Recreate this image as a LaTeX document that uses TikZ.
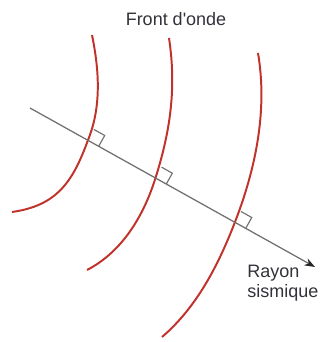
\documentclass[tikz,border=0pt]{standalone}
\usepackage{fontspec}
\setmainfont{Liberation Sans}
\usetikzlibrary{arrows.meta,calc,intersections}
\definecolor{rougeonde}{RGB}{192,50,42}
\definecolor{grisrayon}{RGB}{112,112,112}
\definecolor{texte}{RGB}{50,50,58}

\begin{document}
\begin{tikzpicture}[
	x=0.025cm, y=-0.025cm,
	front/.style     = {draw=rougeonde, line width=1.4pt},
	rayon/.style     = {draw=grisrayon, line width=0.9pt, -{Stealth[length=7.5pt,width=5.5pt,color=black!85]}},
	angledroit/.style = {draw=grisrayon, line width=0.8pt},
	etiquette/.style = {font=\fontsize{12.8}{14.4}\selectfont, text=texte, inner sep=0pt, align=left}
	]
	\useasboundingbox (0,0) rectangle (320,342);
	
	% ===================== Fronts d'onde =====================
	\draw[front, name path=f1] (92,35) .. controls (99.2,70.1) and (101.6,106.9) .. (88,140)
		.. controls (72.7,182.3) and (56.6,205.7) .. (12,212);
	\draw[front, name path=f2] (169,38) .. controls (176.5,87.5) and (170.5,130.5) .. (155.5,178)
		.. controls (143.6,215.9) and (122.3,251.7) .. (87,270);
	\draw[front, name path=f3] (258,53) .. controls (267.7,110.1) and (255.8,168.2) .. (235,222)
		.. controls (218.4,264.9) and (197,307) .. (162,337);
	
	% ===================== Rayon sismique =====================
	\coordinate (rs) at (30,108);
	\coordinate (re) at (315,267);
	\path[name path=ray] (rs) -- (re);
	\draw[rayon] (rs) -- (re);
	
	\foreach \i in {1,2,3} {
		\path[name intersections={of=ray and f\i, by=c\i}];
		\coordinate (a\i) at ($(c\i)!0.31cm!(re)$);
		\coordinate (b\i) at ($(c\i)!0.31cm!90:(re)$);
		\draw[angledroit] (a\i) -- ($(a\i)+(b\i)-(c\i)$) -- (b\i);
	}
	
	% ===================== Textes =====================
	\node[etiquette, anchor=base] (front) at (176,25) {Front d\textquotesingle onde};
	\node[etiquette, anchor=north west] (legende) at (247,265) {Rayon\\sismique};
	
\end{tikzpicture}
\end{document}
